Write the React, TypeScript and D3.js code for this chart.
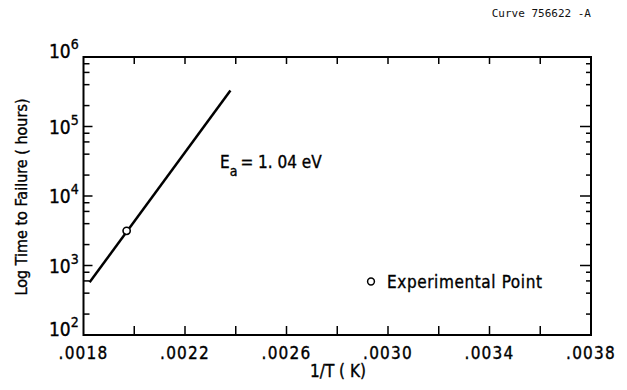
import React from "react";
import * as d3 from "d3";

const lineX = [0.001824, 0.002379];
const lineY = [573, 330000];
const expX = [0.00197];
const expY = [3150];
const xTickVals = [0.0018, 0.002, 0.0022, 0.0024, 0.0026, 0.0028, 0.003, 0.0032, 0.0034, 0.0036, 0.0038];
const xTickLabels = [".0018", ".0022", ".0026", ".0030", ".0034", ".0038"];
const xLabelVals = [0.0018, 0.0022, 0.0026, 0.003, 0.0034, 0.0038];
const yMajor = [1e2, 1e3, 1e4, 1e5, 1e6];
const yExp = ["2", "3", "4", "5", "6"];
const minorMult = [2, 4, 6, 8];

const W = 627, H = 390;
const L = 83.5, R = 591, T = 57, B = 335;
const FONT = "'DejaVu Sans Condensed', 'Liberation Sans Narrow', 'DejaVu Sans', sans-serif";

export default function App() {
  const x = d3.scaleLinear().domain([0.0018, 0.0038]).range([L, R]);
  const y = d3.scaleLog().domain([1e2, 1e6]).range([B, T]);
  const minors: number[] = [];
  yMajor.slice(0, -1).forEach((m) => minorMult.forEach((k) => minors.push(m * k)));
  const line = d3.line<number>().x((d, i) => x(lineX[i])).y((d, i) => y(lineY[i]));
  const ts = { stroke: "#000", strokeWidth: 0.35 };
  return (
    <svg width={W} height={H} style={{ position: "absolute", left: 0, top: 0, background: "#fff" }}
      fontFamily={FONT} fontStretch="condensed">
      <rect x={0} y={0} width={W} height={H} fill="#fff" />
      <text x={591} y={17} fontFamily="'DejaVu Sans Mono', monospace" fontSize={11} textAnchor="end" fill="#111">Curve 756622 -A</text>
      {/* frame */}
      <rect x={L} y={T} width={R - L} height={B - T} fill="none" stroke="#000" strokeWidth={2} />
      {/* x ticks */}
      {xTickVals.slice(1, -1).map((v, i) => (
        <g key={"xt" + i}>
          <line x1={x(v)} x2={x(v)} y1={B} y2={B - 9} stroke="#000" strokeWidth={1.5} />
          <line x1={x(v)} x2={x(v)} y1={T} y2={T + 7} stroke="#000" strokeWidth={1.5} />
        </g>
      ))}
      {xLabelVals.map((v, i) => (
        <text key={"xl" + i} x={x(v)} y={359} fontSize={17} letterSpacing={1.2} textAnchor="middle" fill="#000" {...ts}>{xTickLabels[i]}</text>
      ))}
      <text x={338} y={377} fontSize={17} textAnchor="middle" fill="#000" {...ts}>1/T ( K)</text>
      {/* y ticks */}
      {yMajor.slice(1, -1).map((v, i) => (
        <g key={"ym" + i}>
          <line x1={L} x2={L + 9} y1={y(v)} y2={y(v)} stroke="#000" strokeWidth={1.5} />
          <line x1={R} x2={R - 11} y1={y(v)} y2={y(v)} stroke="#000" strokeWidth={1.5} />
        </g>
      ))}
      {minors.map((v, i) => (
        <g key={"yn" + i}>
          <line x1={L} x2={L + 6} y1={y(v)} y2={y(v)} stroke="#000" strokeWidth={1.5} />
          <line x1={R} x2={R - 5} y1={y(v)} y2={y(v)} stroke="#000" strokeWidth={1.5} />
        </g>
      ))}
      {yMajor.map((v, i) => {
        const off = v === 1e2 || v === 1e6 ? -6 : 0;
        const yy = y(v) + off + 7;
        return (
          <text key={"yl" + i} x={49} y={yy} fontSize={19} fill="#000" {...ts}>
            10<tspan dy={-9} fontSize={14}>{yExp[i]}</tspan>
          </text>
        );
      })}
      <text transform={`translate(27,${197}) rotate(-90)`} fontSize={16} textAnchor="middle" fill="#000" {...ts}>
        Log Time to Failure ( hours)
      </text>
      {/* fitted line */}
      <path d={line(lineX) || ""} fill="none" stroke="#000" strokeWidth={2.5} />
      {expX.map((v, i) => (
        <circle key={"ep" + i} cx={x(v)} cy={y(expY[i])} r={3.6} fill="#fff" stroke="#000" strokeWidth={1.6} />
      ))}
      {/* annotation */}
      <text x={220} y={168} fontSize={17} fill="#000" {...ts}>
        E<tspan dy={8} fontSize={14}>a</tspan><tspan dy={-8} dx={3}>= 1. 04 eV</tspan>
      </text>
      {/* legend */}
      <circle cx={371} cy={281.5} r={3.4} fill="#fff" stroke="#000" strokeWidth={1.5} />
      <text x={387} y={287.5} fontSize={17} letterSpacing={0.6} fill="#000" {...ts}>Experimental Point</text>
    </svg>
  );
}
